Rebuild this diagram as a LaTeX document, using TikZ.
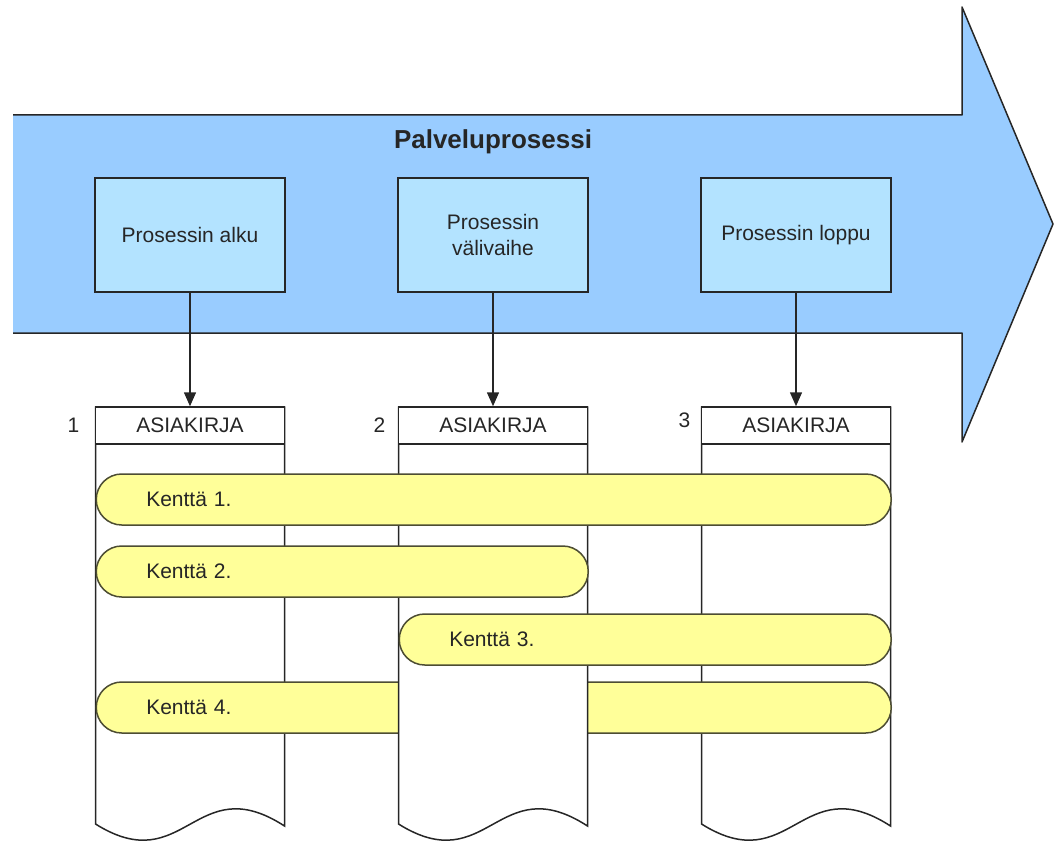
\documentclass[tikz,border=0pt]{standalone}
\usepackage{fontspec}
\setmainfont{Liberation Sans}
\usetikzlibrary{arrows.meta,positioning}

\definecolor{nuolenpohja}{HTML}{99CCFF}
\definecolor{vaihepohja}{HTML}{B3E3FF}
\definecolor{kenttapohja}{HTML}{FFFF99}
\definecolor{viiva}{HTML}{262626}
\definecolor{kenttaviiva}{HTML}{4D4D33}

\tikzset{
  teksti/.style={font=\fontsize{21}{26}\selectfont, text=black!85},
  vaihe/.style={teksti, draw=viiva, fill=vaihepohja, line width=1.5pt, minimum width=190pt, minimum height=114pt, align=center},
  otsake/.style={teksti, draw=viiva, fill=white, line width=1.5pt, minimum width=189pt, minimum height=37pt},
  kentta/.style={teksti, draw=kenttaviiva, fill=kenttapohja, line width=1.5pt, rounded corners=25.5pt, minimum height=51pt, inner xsep=50pt, align=left, anchor=west},
  nuoli/.style={draw=viiva, line width=1.5pt, -{Triangle[length=14pt,width=12pt]}},
  paperi/.style={draw=viiva, fill=white, line width=1.5pt}
}
% asiakirjan runko, keskikohta x
\newcommand\asiakirja[1]{%
  \draw[paperi] (#1-94.5,407) -- (#1-94.5,824)
    .. controls (#1-5,880) and (#1+5,768) .. (#1+94.5,826) -- (#1+94.5,407) -- cycle;}

\begin{document}
\begin{tikzpicture}[x=1pt, y=-1pt, node distance=303pt]
\useasboundingbox (0,0) rectangle (1054,840);
% iso nuoli
\fill[nuolenpohja] (13,115) -- (962,115) -- (962,7) -- (1053,224) -- (962,442) -- (962,333) -- (13,333) -- cycle;
\draw[viiva, line width=1.5pt, line join=round] (13,115) -- (962,115) -- (962,7) -- (1053,224) -- (962,442) -- (962,333) -- (13,333);
\node[font=\bfseries\fontsize{26}{30}\selectfont, text=black!85] (otsikko) at (493,142) {Palveluprosessi};
\node[vaihe] (p1) at (190,235) {Prosessin alku};
\node[vaihe, right of=p1] (p2) {Prosessin\\välivaihe};
\node[vaihe, right of=p2] (p3) {Prosessin loppu};
% asiakirjat ja kentät
\asiakirja{190}
\asiakirja{796}
\node[kentta, text width=695pt] (k4) at (95.5,707.5) {Kenttä 4.};
\asiakirja{493}
\node[otsake] (a1) at (190,425.5) {ASIAKIRJA};
\node[otsake, right of=a1] (a2) {ASIAKIRJA};
\node[otsake, right of=a2] (a3) {ASIAKIRJA};
\node[teksti, left=12pt of a1] (n1) {1};
\node[teksti, left=9pt of a2] (n2) {2};
\node[teksti, left=7pt of a3, yshift=5pt] (n3) {3};
\draw[nuoli] (p1) -- (a1);
\draw[nuoli] (p2) -- (a2);
\draw[nuoli] (p3) -- (a3);
\node[kentta, text width=695pt] (k1) at (95.5,499.5) {Kenttä 1.};
\node[kentta, text width=392pt] (k2) at (95.5,571.5) {Kenttä 2.};
\node[kentta, text width=392pt] (k3) at (398.5,639.5) {Kenttä 3.};
\end{tikzpicture}
\end{document}
